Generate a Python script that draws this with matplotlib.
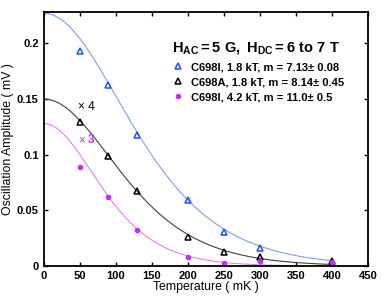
import numpy as np
import matplotlib
matplotlib.use("Agg")
import matplotlib.pyplot as plt

plt.rcParams['font.family'] = ['Liberation Sans', 'DejaVu Sans']
plt.rcParams['font.weight'] = 'bold'
plt.rcParams['mathtext.fontset'] = 'custom'
plt.rcParams['mathtext.rm'] = 'Liberation Sans:bold'
plt.rcParams['mathtext.bf'] = 'Liberation Sans:bold'
plt.rcParams['mathtext.it'] = 'Liberation Sans:bold'

# measured points (mK, mV)
temps = [50, 90, 130, 200, 250, 300, 400]
amp_c698i_18 = [0.193, 0.163, 0.118, 0.059, 0.031, 0.016, 0.003]
amp_c698a_18 = [0.129, 0.099, 0.067, 0.026, 0.013, 0.008, 0.005]
amp_c698i_42 = [0.089, 0.062, 0.032, 0.0085, 0.0025, 0.0045, 0.004]

# Lifshitz-Kosevich fit parameters (A0 in mV, effective mass m)
fit_a0 = [0.227, 0.150, 0.128]
fit_mass = [7.13, 8.14, 11.0]
field_T = 6.55

labels = ["C698I, 1.8 kT, m = 7.13\u00b1 0.08",
          "C698A, 1.8 kT, m = 8.14\u00b1 0.45",
          "C698I, 4.2 kT, m = 11.0\u00b1 0.5"]


def lk(t_mk, a0, m):
    x = 14.69 * m * (t_mk / 1000.0) / field_T
    x = np.where(x == 0, 1e-9, x)
    return a0 * x / np.sinh(x)


fig = plt.figure(figsize=(3.82, 2.96), dpi=100)
ax = fig.add_axes([0.114, 0.101, 0.849, 0.858])

tt = np.linspace(0, 400, 400)
ax.plot(tt, lk(tt, fit_a0[0], fit_mass[0]), color='#7f9cf5', lw=0.8)
ax.plot(tt, lk(tt, fit_a0[1], fit_mass[1]), color='#404040', lw=0.8)
ax.plot(tt, lk(tt, fit_a0[2], fit_mass[2]), color='#e07ff0', lw=0.8)

ax.plot(temps, amp_c698i_18, '^', mfc='none', mec='#1f4fff', ms=4.5, mew=1.1, label=labels[0])
ax.plot(temps, amp_c698a_18, '^', mfc='none', mec='black', ms=4.5, mew=1.1, label=labels[1])
ax.plot(temps, amp_c698i_42, 'o', color='#c030f0', ms=3, label=labels[2])

ax.text(48, 0.143, "\u00d7 4", color='black', fontsize=8.5, ha='left', va='center', fontweight='normal')
ax.text(48, 0.113, "\u00d7", color='#c030f0', fontsize=8.5, ha='left', va='center', fontweight='normal')
ax.text(62, 0.113, "3", color='#c030f0', fontsize=8.5, ha='left', va='center')

ax.text(0.395, 0.86, r'$\mathbf{H_{AC} = 5\ G,\ H_{DC} = 6\ to\ 7\ T}$',
        transform=ax.transAxes, fontsize=10.5, ha='left', va='center')

ax.legend(loc='upper left', bbox_to_anchor=(0.385, 0.82), frameon=False,
          fontsize=8, handlelength=1.0, handletextpad=0.6, labelspacing=0.45,
          borderaxespad=0)

ax.set_xlim(0, 450)
ax.set_ylim(0, 0.228)
ax.set_xticks(range(0, 451, 50))
ax.set_yticks([0, 0.05, 0.1, 0.15, 0.2])
ax.set_yticklabels(["0", "0.05", "0.1", "0.15", "0.2"])
ax.tick_params(direction='in', top=True, right=True, labelsize=8, length=3, width=1)
for s in ax.spines.values():
    s.set_linewidth(1.3)

ax.set_xlabel("Temperature ( mK )", fontsize=8.8, labelpad=0)
ax.set_ylabel("Oscillation Amplitude ( mV )", fontsize=8.8, labelpad=2)

fig.savefig("out.png", dpi=100)
